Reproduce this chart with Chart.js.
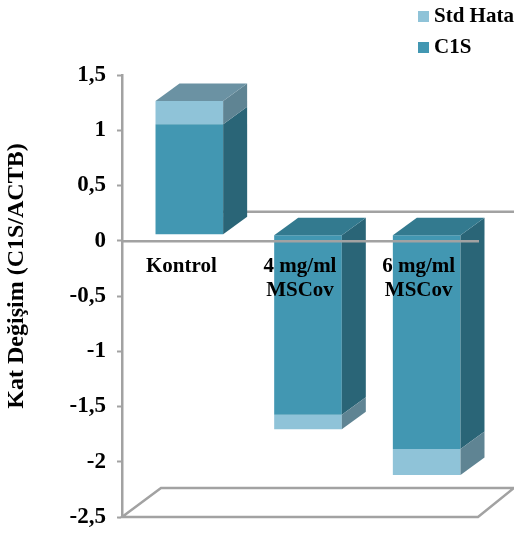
<!DOCTYPE html>
<html>
<head>
<meta charset="utf-8">
<style>
  html, body { margin: 0; padding: 0; background: #ffffff; }
  #wrap { width: 514px; height: 534px; position: relative; }
</style>
<script src="https://cdn.jsdelivr.net/npm/chart.js@4"></script>
</head>
<body>
<div id="wrap"><canvas id="chart" width="514" height="534"></canvas></div>
<script>
const categories = ['Kontrol', ['4 mg/ml', 'MSCov'], ['6 mg/ml', 'MSCov']];
const c1sValues = [1.0, -1.63, -1.94];
const stdHataValues = [0.21, -0.13, -0.235];
const seriesNames = ['C1S', 'Std Hata'];
const axisTitle = 'Kat Değişim (C1S/ACTB)';

const serif = '"Liberation Serif", "Times New Roman", serif';
const axisGrey = '#a2a2a2';

// Shades for each series: front, side and top faces of the box.
const faces = [
  { front: '#4297b2', side: '#2a6577', top: '#337a8f' },
  { front: '#8fc3d8', side: '#5f8493', top: '#6b92a3' }
];

// Oblique projection used by the pseudo-3D drawing.
const barShift = { x: 8, y: -6 };
const barDepth = { x: 24, y: -17.5 };
const floorDepth = { x: 39, y: -29 };

function polygon(ctx, pts, fill) {
  ctx.beginPath();
  pts.forEach((p, i) => (i ? ctx.lineTo(p[0], p[1]) : ctx.moveTo(p[0], p[1])));
  ctx.closePath();
  ctx.fillStyle = fill;
  ctx.fill();
}

const box3d = {
  id: 'box3d',
  beforeDraw(chart) {
    // Legend sits in the top right corner, above the plot.
    const lg = chart.legend;
    const w = lg.right - lg.left, h = lg.bottom - lg.top;
    lg.left = 413.5; lg.right = 413.5 + w;
    lg.top = -4; lg.bottom = -4 + h;
  },
  beforeDatasetsDraw(chart) {
    const { ctx, scales: { x, y } } = chart;
    const kontrol = chart.getDatasetMeta(0).data[0];
    ctx.save();
    ctx.strokeStyle = axisGrey;
    ctx.lineWidth = 2.5;
    // Floor parallelogram under the lowest tick.
    ctx.beginPath();
    ctx.moveTo(x.left, y.bottom);
    ctx.lineTo(x.left + floorDepth.x, y.bottom + floorDepth.y);
    ctx.lineTo(514, y.bottom + floorDepth.y);
    ctx.lineTo(x.right, y.bottom);
    ctx.closePath();
    ctx.stroke();
    // Back edge of the zero plane, hidden behind the boxes.
    const backY = y.getPixelForValue(0) + floorDepth.y;
    ctx.beginPath();
    ctx.moveTo(kontrol.x, backY);
    ctx.lineTo(514, backY);
    ctx.stroke();
    ctx.restore();
    // The boxes stand a little behind the front plane.
    ctx.save();
    ctx.translate(barShift.x, barShift.y);
  },
  afterDatasetsDraw(chart) {
    const { ctx } = chart;
    const dx = barDepth.x, dy = barDepth.y;
    categories.forEach((_, i) => {
      let topY = Infinity, topFace = null, left = 0, right = 0;
      [0, 1].forEach(ds => {
        const el = chart.getDatasetMeta(ds).data[i];
        const a = Math.min(el.y, el.base), b = Math.max(el.y, el.base);
        left = el.x - el.width / 2;
        right = el.x + el.width / 2;
        polygon(ctx, [[right, a], [right + dx, a + dy], [right + dx, b + dy], [right, b]], faces[ds].side);
        if (a < topY) { topY = a; topFace = faces[ds].top; }
      });
      polygon(ctx, [[left, topY], [left + dx, topY + dy], [right + dx, topY + dy], [right, topY]], topFace);
    });
    ctx.restore();
  },
  afterDraw(chart) {
    const { ctx } = chart;
    ctx.save();
    ctx.translate(17, 276);
    ctx.rotate(-Math.PI / 2);
    ctx.font = 'bold 24px ' + serif;
    ctx.fillStyle = '#000000';
    ctx.textAlign = 'center';
    ctx.textBaseline = 'middle';
    ctx.fillText(axisTitle, 0, 0);
    ctx.restore();
  }
};

new Chart(document.getElementById('chart'), {
  type: 'bar',
  data: {
    labels: categories,
    datasets: [
      { label: seriesNames[0], data: c1sValues, backgroundColor: faces[0].front, stack: 's' },
      { label: seriesNames[1], data: stdHataValues, backgroundColor: faces[1].front, stack: 's' }
    ]
  },
  options: {
    responsive: false,
    animation: false,
    events: [],
    layout: { padding: { left: 0, right: 36, top: 75, bottom: 17 } },
    barPercentage: 0.57,
    categoryPercentage: 1,
    plugins: {
      tooltip: { enabled: false },
      title: { display: false },
      legend: {
        position: 'chartArea',
        align: 'start',
        reverse: true,
        labels: {
          usePointStyle: true,
          pointStyle: 'rect',
          boxWidth: 0.01,
          boxHeight: 11,
          padding: 10,
          color: '#000000',
          font: { family: serif, weight: 'bold', size: 21 }
        }
      }
    },
    scales: {
      x: {
        stacked: true,
        position: { y: 0 },
        grid: { display: false },
        border: { color: axisGrey, width: 2.5, z: 1 },
        ticks: {
          z: 1,
          padding: 6,
          maxRotation: 0,
          autoSkip: false,
          color: '#000000',
          font: { family: serif, weight: 'bold', size: 21, lineHeight: 1.15 }
        }
      },
      y: {
        stacked: true,
        min: -2.5,
        max: 1.5,
        afterFit(scale) {
          scale.width = 122;
          scale.paddingTop = 0;
          scale.paddingBottom = 0;
        },
        grid: { drawOnChartArea: false, drawTicks: true, tickLength: 5, tickColor: axisGrey, tickWidth: 2 },
        border: { color: axisGrey, width: 2.5 },
        ticks: {
          stepSize: 0.5,
          padding: 11,
          color: '#000000',
          font: { family: serif, weight: 'bold', size: 23 },
          callback: v => String(v).replace('.', ',')
        }
      }
    }
  },
  plugins: [box3d]
});
</script>
</body>
</html>
